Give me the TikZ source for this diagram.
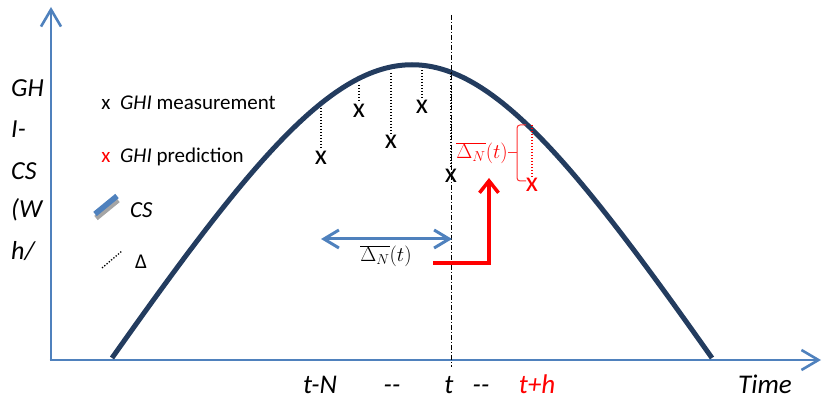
\documentclass[tikz,border=0pt]{standalone}
\usepackage{fontspec}
\setmainfont{Carlito}
\usetikzlibrary{arrows.meta}
\definecolor{axisblue}{RGB}{79,129,189}
\definecolor{navy}{RGB}{35,60,95}
\definecolor{shadowgray}{RGB}{165,165,165}
\tikzset{
  axisline/.style={axisblue, line width=2.6pt, -{Straight Barb[length=17pt,width=20pt]}},
  mk/.style={inner sep=0pt, font=\fontsize{28}{32}\selectfont},
  dots/.style={line width=1.4pt, dash pattern=on 1.4pt off 1.6pt},
  ylab/.style={anchor=base west, inner sep=0pt, font=\fontsize{26}{30}\selectfont\itshape},
  xlab/.style={anchor=base, inner sep=0pt, font=\fontsize{27}{31}\selectfont\itshape},
  leg/.style={anchor=base west, inner sep=0pt, font=\fontsize{21}{25}\selectfont},
  dlab/.style={inner sep=0pt, font=\fontsize{21}{25}\selectfont}
}
\begin{document}
\begin{tikzpicture}[x=1pt,y=-1pt]
\useasboundingbox (0,0) rectangle (822,403);
% axes
\coordinate (O) at (51,360);
\coordinate (Ytop) at (51,7);
\coordinate (Xend) at (821,360);
\draw[axisline] (O) -- (Ytop);
\draw[axisline] ([xshift=-1.3pt]O) -- (Xend);
% curve
\coordinate (cs) at (112,358);
\coordinate (ce) at (712,358);
\draw[navy, line width=5pt] (cs) .. controls (388,-33) and (436,-33) .. (ce);
% vertical dash-dot line at t
\coordinate (vt) at (451,15);
\coordinate (vb) at (451,367);
\draw[line width=0.8pt, dash pattern=on 5pt off 2pt on 1pt off 2pt] (vt) -- (vb);
% measurement marks
\node[mk] (m1) at (321,158) {x};
\node[mk] (m2) at (359,111) {x};
\node[mk] (m3) at (391,142) {x};
\node[mk] (m4) at (422,107) {x};
\node[mk] (m5) at (451,176) {x};
\coordinate (c1) at (321,108);
\coordinate (c2) at (359,85);
\coordinate (c3) at (391,73);
\coordinate (c4) at (422,70);
\coordinate (c5) at (451,73);
\draw[dots] (c1) -- ([yshift=2pt]m1.north);
\draw[dots] (c2) -- ([yshift=2pt]m2.north);
\draw[dots] (c3) -- ([yshift=2pt]m3.north);
\draw[dots] (c4) -- ([yshift=2pt]m4.north);
\draw[dots] (c5) -- ([yshift=2pt]m5.north);
% prediction
\node[mk, red] (p) at (532,185) {x};
\coordinate (cp) at (532,125);
\draw[dots, red] (cp) -- ([yshift=2pt]p.north);
\coordinate (bt) at (526,125);
\coordinate (bb) at (526,181);
\coordinate (bm) at (508,153);
\draw[red!80, line width=1pt, rounded corners=3pt] (bt) -- (517,125) -- (517,181) -- (bb);
\draw[red!80, line width=1pt] (bm) -- (517,153);
\node[dlab, red, anchor=east] (dlr) at (bm) {$\overline{\Delta_N}(t)$};
% blue double arrow
\coordinate (ba) at (321,239);
\coordinate (bz) at (452,239);
\draw[axisblue, line width=3pt, {Straight Barb[length=15pt,width=18pt]}-{Straight Barb[length=15pt,width=18pt]}] (ba) -- (bz);
\node[dlab] (dlb) at (386,256) {$\overline{\Delta_N}(t)$};
% red L arrow
\coordinate (ra) at (433,263);
\coordinate (rz) at (489,178);
\draw[red, line width=3.5pt, -{Straight Barb[length=12pt,width=19pt]}] (ra) -| (rz);
% legend
\node[leg, anchor=base] (lx1) at (106,110) {x};
\node[leg] (lt1) at (120,110) {\textit{GHI} measurement};
\node[leg, anchor=base, red] (lx2) at (106,163) {x};
\node[leg] (lt2) at (120,163) {\textit{GHI} prediction};
\draw[shadowgray, line width=5.5pt] (96,218) -- (118,200);
\draw[axisblue, line width=5.5pt] (95,214) -- (117,196);
\node[leg, font=\fontsize{23}{27}\selectfont\itshape] (lcs) at (130,218) {CS};
\coordinate (ld1) at (102,268);
\coordinate (ld2) at (122,251);
\draw[line width=1.3pt, dash pattern=on 1.3pt off 1.7pt] (ld1) -- (ld2);
\node[leg, font=\fontsize{21}{25}\selectfont] (lde) at (135,269) {Δ};
% y axis label
\node[ylab] (y1) at (11,97) {GH};
\node[ylab] (y2) at (11,138) {I-};
\node[ylab] (y3) at (11,180) {CS};
\node[ylab] (y4) at (11,218) {(W};
\node[ylab] (y5) at (11,260) {h/};
% x axis labels
\node[xlab] (x1) at (320,393) {t-N};
\node[xlab] (x2) at (392,393) {-{}-};
\node[xlab] (x3) at (449,393) {t};
\node[xlab] (x4) at (481,393) {-{}-};
\node[xlab, red] (x5) at (537,393) {t+h};
\node[xlab] (x6) at (765,393) {Time};
\end{tikzpicture}
\end{document}
